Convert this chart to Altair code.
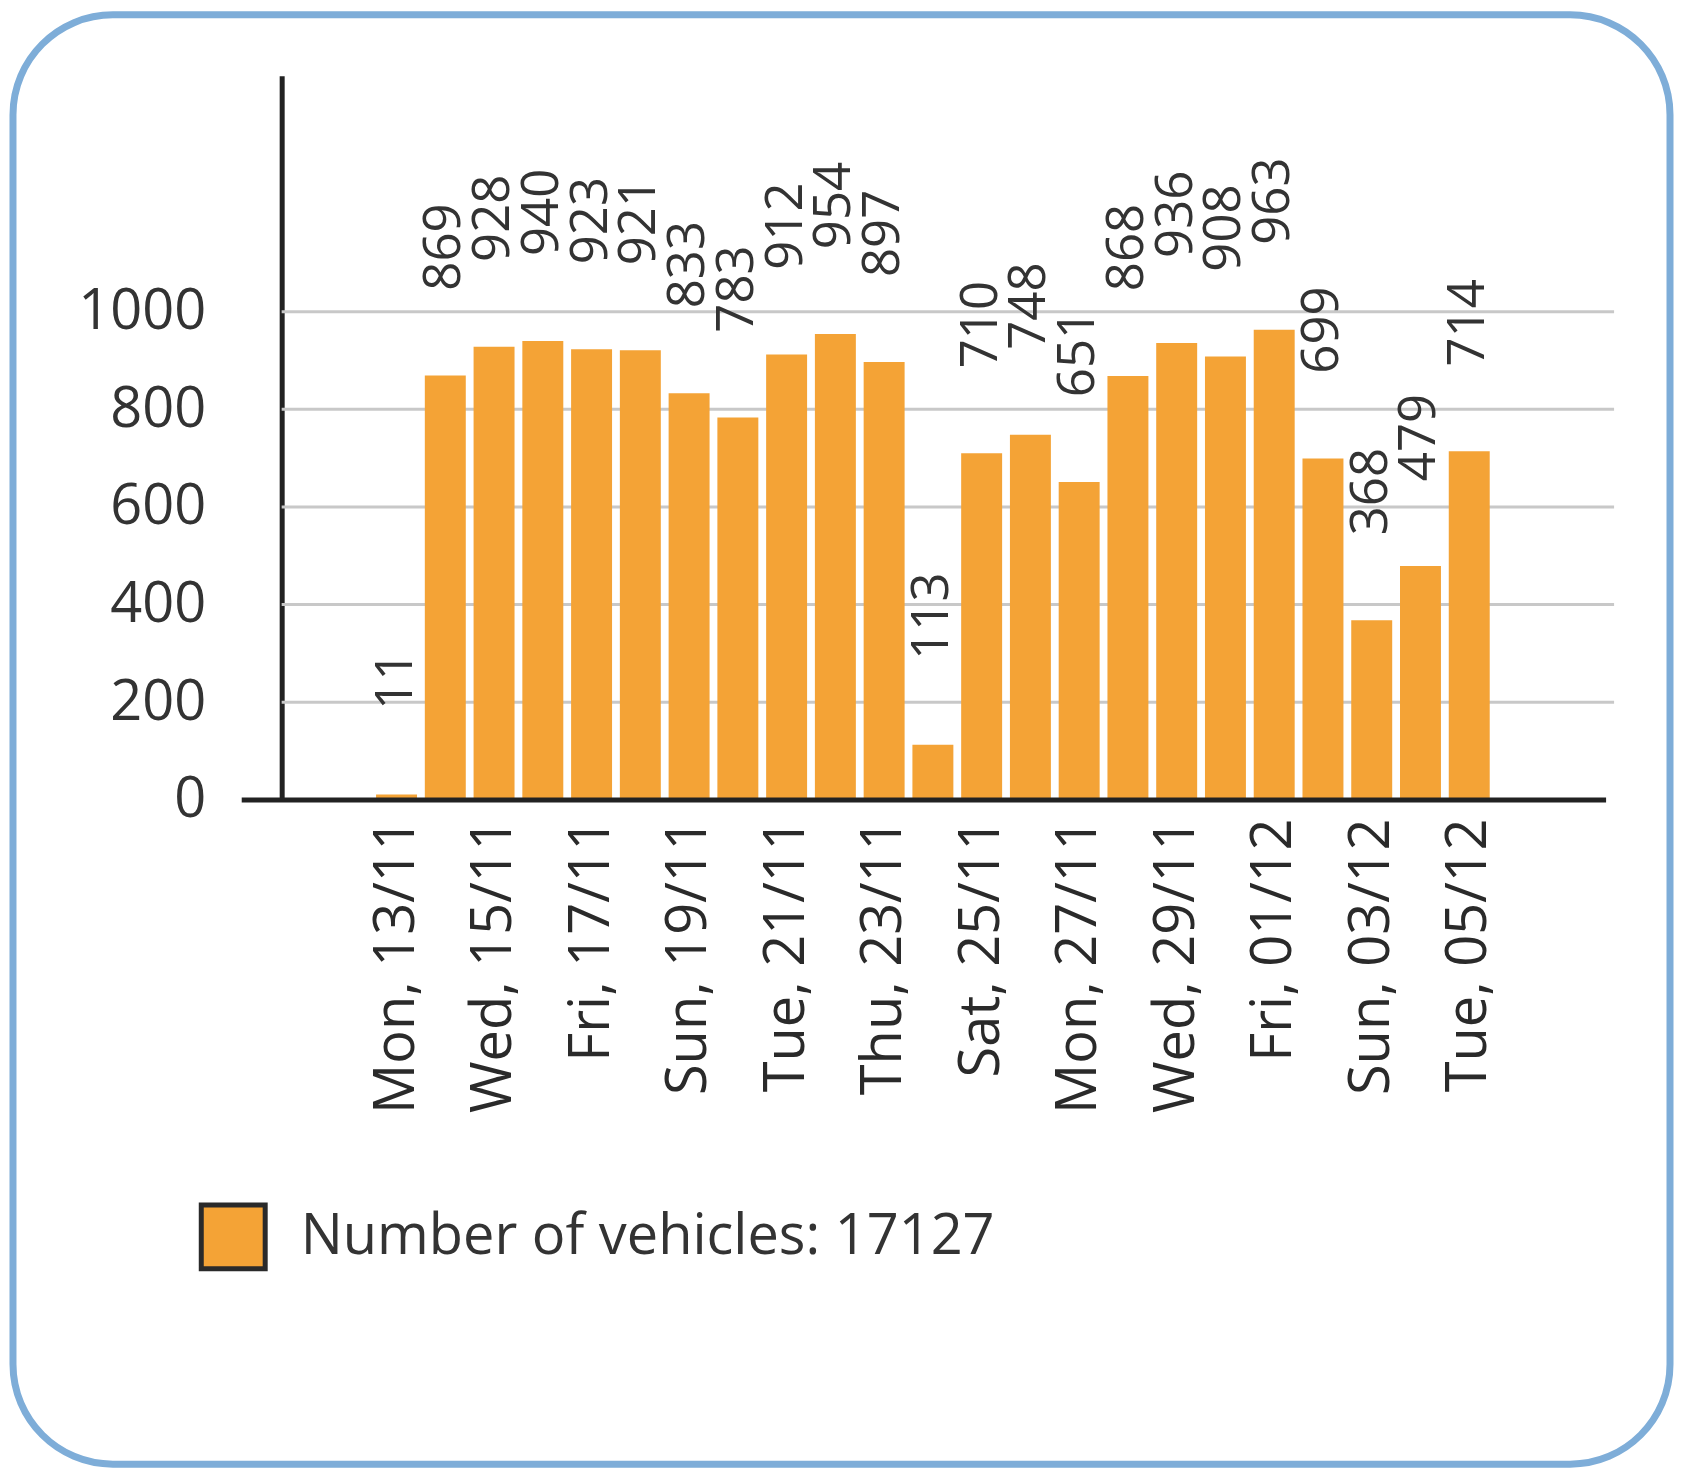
import altair as alt
import pandas as pd

days = ["Mon, 13/11", "Tue, 14/11", "Wed, 15/11", "Thu, 16/11", "Fri, 17/11",
        "Sat, 18/11", "Sun, 19/11", "Mon, 20/11", "Tue, 21/11", "Wed, 22/11",
        "Thu, 23/11", "Fri, 24/11", "Sat, 25/11", "Sun, 26/11", "Mon, 27/11",
        "Tue, 28/11", "Wed, 29/11", "Thu, 30/11", "Fri, 01/12", "Sat, 02/12",
        "Sun, 03/12", "Mon, 04/12", "Tue, 05/12"]
vehicles = [11, 869, 928, 940, 923, 921, 833, 783, 912, 954, 897, 113,
            710, 748, 651, 868, 936, 908, 963, 699, 368, 479, 714]
tick_labels = days[::2]
y_ticks = [0, 200, 400, 600, 800, 1000]
legend_label = "Number of vehicles: 17127"

bar_color = "#F4A336"
border_color = "#7EADD8"
text_color = "#333333"

df = pd.DataFrame({"day": days, "vehicles": vehicles, "series": legend_label})
grid_df = pd.DataFrame({"tick": y_ticks[1:]})

W, H = 1326, 725

x_enc = alt.X("day:N", sort=None,
              scale=alt.Scale(paddingInner=0.16, paddingOuter=0.08, range=[90.6, 1213.4]),
              axis=alt.Axis(values=tick_labels, labelAngle=270, labelPadding=18,
                            ticks=False, domain=False, title=None, labelFontSize=56,
                            labelColor="#2a2a2a", grid=False, labelLimit=1000))
y_scale = alt.Scale(domain=[0, 1483], nice=False)
y_enc = alt.Y("vehicles:Q", scale=y_scale,
              axis=alt.Axis(values=y_ticks, ticks=False, domainColor="#222222",
                            domainWidth=5, grid=False, format="d",
                            labelPadding=76, labelFontSize=56, title=None,
                            labelColor=text_color))

border = alt.Chart(pd.DataFrame({"a": [0]})).mark_rect(
    cornerRadius=100, fillOpacity=0, stroke=border_color, strokeWidth=7
).encode(x=alt.value(13 - 282), x2=alt.value(1672 - 282),
         y=alt.value(14 - 75), y2=alt.value(1465 - 75))

grid = alt.Chart(grid_df).mark_rule(color="#c8c8c8", strokeWidth=3).encode(
    y=alt.Y("tick:Q", scale=y_scale), x=alt.value(0), x2=alt.value(W + 8)
)

bars = alt.Chart(df).mark_bar().encode(
    x=x_enc, y=y_enc,
    color=alt.Color("series:N", scale=alt.Scale(domain=[legend_label], range=[bar_color]),
                    legend=alt.Legend(orient="none", legendX=-83, legendY=1128,
                                      symbolType="square", symbolSize=4096,
                                      symbolStrokeWidth=5, symbolStrokeColor="#2a2a2a",
                                      labelFontSize=56, labelOffset=33, padding=0,
                                      title=None, labelColor=text_color,
                                      symbolOpacity=1, labelLimit=1000))
)

labels = alt.Chart(df).mark_text(
    angle=270, align="left", baseline="middle", yOffset=-85,
    fontSize=51, color=text_color
).encode(x=x_enc, y=y_enc, text="vehicles:Q")

baseline = alt.Chart(pd.DataFrame({"a": [0]})).mark_rule(
    color="#222222", strokeWidth=5
).encode(x=alt.value(-40), x2=alt.value(W), y=alt.value(H))

chart = alt.layer(border, grid, bars, labels, baseline).properties(
    width=W, height=H,
    autosize=alt.AutoSizeParams(type="none"),
    padding={"left": 274, "top": 67, "right": 70, "bottom": 670},
    background="white"
).configure(font="Open Sans").configure_view(stroke=None)

chart.save("out.html", embed_options={"renderer": "svg", "actions": False})
